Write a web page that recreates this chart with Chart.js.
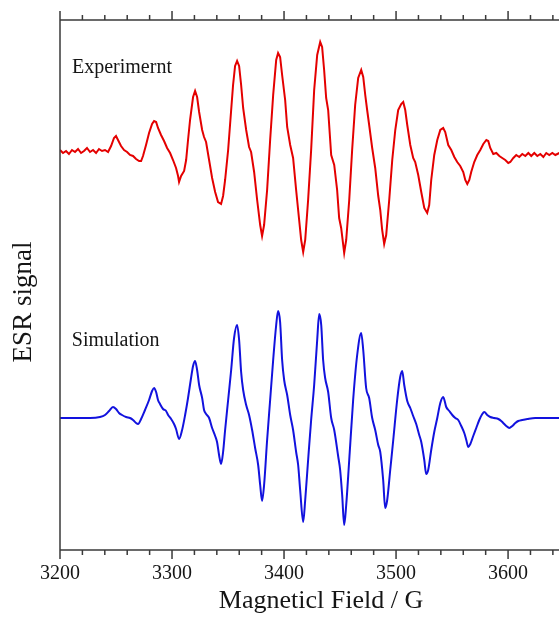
<!DOCTYPE html>
<html><head><meta charset="utf-8">
<script src="https://cdn.jsdelivr.net/npm/chart.js@4.4.1/dist/chart.umd.min.js"></script>
<style>html,body{margin:0;padding:0;overflow:hidden;background:#fff;width:559px;height:617px}</style>
</head><body>
<canvas id="c" width="582" height="617" style="display:block;width:582px;height:617px"></canvas>
<script>
// ---- data (magnetic field in G, signal in arbitrary units) ----
const xTickLabels = [3200, 3300, 3400, 3500, 3600];
const xMin = 3200, xMax = 3666;

const expField = [3200.0,3202.7,3205.4,3208.0,3210.7,3213.4,3216.1,3218.8,3221.4,3224.1,3226.8,3229.5,3232.2,3234.8,3237.5,3240.2,3242.9,3245.6,3248.2,3250.0,3251.8,3254.5,3257.2,3259.9,3262.5,3265.2,3267.9,3270.6,3272.4,3274.1,3276.8,3279.5,3282.2,3284.0,3285.8,3287.5,3290.2,3292.9,3295.6,3298.3,3300.9,3303.6,3305.4,3306.3,3308.1,3310.8,3312.6,3314.3,3316.1,3318.8,3320.6,3322.4,3324.2,3326.9,3328.6,3330.4,3333.1,3335.8,3338.5,3341.1,3343.8,3345.6,3347.4,3350.1,3352.8,3354.5,3356.3,3358.1,3359.9,3361.7,3363.5,3366.2,3368.8,3370.6,3373.3,3376.0,3378.7,3380.4,3382.2,3384.9,3387.6,3390.3,3393.0,3394.7,3396.5,3398.3,3401.0,3402.8,3405.5,3408.1,3410.8,3413.5,3415.3,3417.1,3418.9,3421.5,3424.2,3426.9,3429.6,3432.3,3434.0,3435.8,3437.6,3439.4,3442.1,3444.8,3447.4,3449.2,3451.0,3453.7,3455.5,3458.2,3460.8,3463.5,3466.2,3468.9,3470.7,3472.5,3474.2,3476.0,3478.7,3481.4,3484.1,3485.9,3487.6,3489.4,3491.2,3493.9,3496.6,3499.3,3501.9,3504.6,3506.4,3508.2,3510.0,3512.7,3515.3,3517.1,3519.8,3522.5,3525.2,3527.8,3529.6,3531.4,3534.1,3536.8,3539.5,3542.1,3543.9,3546.6,3549.3,3552.0,3554.6,3557.3,3560.0,3561.8,3563.6,3565.4,3567.1,3569.8,3572.5,3575.2,3577.9,3580.6,3582.3,3584.1,3586.8,3589.5,3592.2,3594.8,3597.5,3600.2,3602.0,3604.7,3607.3,3610.0,3612.7,3615.4,3618.1,3620.7,3623.4,3626.1,3628.8,3631.5,3634.1,3636.8,3639.5,3642.2,3645.8];
const expSignal = [2,-1,1,-2,2,0,3,-1,1,4,0,2,-1,3,1,2,0,6,14,16,12,6,2,0,-3,-4,-7,-9,-9,-4,7,19,28,31,30,24,17,11,4,-1,-8,-16,-24,-30,-24,-19,-8,12,32,55,61,55,40,22,15,10,-8,-26,-40,-50,-52,-44,-28,2,42,67,86,91,86,67,44,22,5,0,-20,-48,-73,-84,-73,-38,12,57,92,99,95,77,52,25,7,-6,-38,-68,-88,-100,-88,-48,2,62,97,110,105,82,54,42,-3,-13,-38,-66,-76,-101,-88,-48,2,47,74,82,75,57,42,27,4,-16,-44,-58,-78,-92,-83,-48,-8,22,42,48,50,42,27,7,-6,-10,-23,-40,-56,-61,-53,-28,-3,12,22,24,20,7,2,-5,-10,-14,-20,-28,-32,-28,-20,-10,-3,2,8,12,11,4,-2,-1,-4,-6,-8,-11,-10,-6,-3,-5,-2,-4,-1,-4,-1,-4,-2,-5,-1,-3,-1,-3,-1];

const simField = [3200.0,3226.8,3235.7,3240.2,3243.8,3247.3,3250.0,3252.7,3255.4,3259.0,3262.5,3265.2,3267.9,3269.7,3272.4,3275.9,3279.5,3282.2,3284.0,3285.8,3287.5,3289.3,3292.0,3294.7,3296.5,3299.2,3301.8,3303.6,3306.3,3309.0,3311.7,3314.3,3317.0,3318.8,3320.6,3322.4,3324.2,3326.9,3328.6,3330.4,3333.1,3335.8,3338.5,3340.2,3342.0,3343.8,3345.6,3347.4,3350.1,3352.8,3355.4,3358.1,3359.9,3361.7,3363.5,3366.2,3368.8,3371.5,3374.2,3376.9,3378.7,3380.4,3382.2,3384.9,3387.6,3390.3,3393.0,3394.7,3396.5,3398.3,3400.1,3402.8,3405.5,3408.1,3410.8,3412.6,3414.4,3417.1,3418.9,3421.5,3424.2,3426.9,3429.6,3431.4,3433.2,3434.9,3436.7,3439.4,3442.1,3444.8,3448.3,3450.1,3451.9,3453.7,3455.5,3458.2,3461.7,3465.3,3468.9,3470.7,3473.3,3476.0,3478.7,3481.4,3484.1,3485.9,3488.5,3490.3,3492.1,3494.8,3497.5,3501.0,3503.7,3505.5,3507.3,3510.0,3512.7,3515.3,3518.0,3520.7,3522.5,3525.2,3526.9,3528.7,3531.4,3534.1,3536.8,3539.5,3542.1,3544.8,3547.5,3550.2,3552.9,3555.5,3558.2,3560.9,3562.7,3564.5,3566.3,3568.9,3571.6,3574.3,3577.0,3578.8,3581.4,3584.1,3587.7,3591.3,3593.9,3595.7,3598.4,3601.1,3603.8,3606.5,3609.1,3612.7,3617.2,3624.3,3645.8,3666.0];
const simSignal = [0,0,1,3,7,11,9,5,3,1,0,-2,-5,-6,-1,8,18,27,30,26,18,14,9,7,3,-1,-6,-11,-21,-12,3,20,40,52,57,48,33,20,8,4,0,-10,-18,-24,-37,-46,-34,-12,18,48,80,93,78,46,28,13,3,-12,-30,-47,-67,-83,-67,-22,18,58,93,107,96,58,38,23,3,-12,-34,-47,-72,-104,-82,-42,-2,33,78,104,93,58,40,26,0,-12,-38,-52,-77,-107,-87,-42,18,63,85,68,30,20,0,-12,-27,-34,-62,-90,-82,-52,-22,18,41,47,33,17,10,2,-6,-17,-24,-42,-56,-52,-32,-14,0,15,21,11,7,3,0,-2,-8,-15,-22,-29,-26,-18,-10,-2,4,6,3,1,0,-1,-3,-5,-8,-10,-8,-5,-3,-2,-1,0,0,0];

// vertical offsets of the stacked spectra (same arbitrary units)
const expOffset = 0;
const simOffset = -266;
const yMin = -398, yMax = 132;

const expLabel = 'Experimernt', simLabel = 'Simulation';
const xTitle = 'Magneticl Field / G', yTitle = 'ESR signal';

// ---- build ----
const serif = "'Liberation Serif', 'Times New Roman', serif";
const ink = '#151515';
const axisColor = '#3a3a3a';

const expPts = expField.map((f, i) => ({x: f, y: expSignal[i] + expOffset}));
const simPts = simField.map((f, i) => ({x: f, y: simSignal[i] + simOffset}));

const framePlugin = {
  id: 'frame',
  afterDraw(chart) {
    const {ctx, chartArea: a, scales: {x, y}} = chart;
    ctx.save();
    ctx.strokeStyle = axisColor;
    ctx.lineWidth = 1.5;
    ctx.beginPath();
    ctx.moveTo(a.left, a.top); ctx.lineTo(a.right, a.top);
    ctx.moveTo(a.left, a.bottom); ctx.lineTo(a.right, a.bottom);
    ctx.moveTo(a.left, a.top - 0.75); ctx.lineTo(a.left, a.bottom + 0.75);
    for (let v = xMin; v <= xMax; v += 20) {
      const px = x.getPixelForValue(v);
      const len = (v % 100 === 0) ? 9 : 5;
      ctx.moveTo(px, a.bottom); ctx.lineTo(px, a.bottom + len);
      ctx.moveTo(px, a.top); ctx.lineTo(px, a.top - len);
    }
    ctx.stroke();
    ctx.fillStyle = ink;
    ctx.font = "20px " + serif;
    ctx.textAlign = 'left';
    ctx.textBaseline = 'alphabetic';
    ctx.fillText(expLabel, x.getPixelForValue(3210.7), y.getPixelForValue(79));
    ctx.fillText(simLabel, x.getPixelForValue(3210.5), y.getPixelForValue(-194));
    ctx.font = "27px " + serif;
    ctx.translate(31, 302);
    ctx.rotate(-Math.PI / 2);
    ctx.textAlign = 'center';
    ctx.fillText(yTitle, 0, 0);
    ctx.restore();
  }
};

new Chart(document.getElementById('c'), {
  type: 'line',
  data: {
    datasets: [
      {label: expLabel, data: expPts, borderColor: 'rgb(228,0,0)', borderWidth: 2, pointRadius: 0, tension: 0, fill: false},
      {label: simLabel, data: simPts, borderColor: 'rgb(18,18,222)', borderWidth: 2, pointRadius: 0, cubicInterpolationMode: 'monotone', fill: false}
    ]
  },
  options: {
    responsive: false,
    animation: false,
    devicePixelRatio: 1,
    layout: {padding: {top: 20, left: 0, right: 0, bottom: 0}},
    plugins: {legend: {display: false}, tooltip: {enabled: false}},
    scales: {
      x: {
        type: 'linear', min: xMin, max: xMax,
        grid: {display: false, drawTicks: false},
        border: {display: false},
        ticks: {
          stepSize: 100, padding: 12, maxRotation: 0, autoSkip: false,
          color: ink, font: {family: serif, size: 20},
          callback: v => xTickLabels.includes(v) ? String(v) : ''
        },
        title: {display: true, text: xTitle, color: ink, font: {family: serif, size: 26}, padding: 0},
        afterFit: s => { s.height = 67; s.paddingRight = 0; s.paddingLeft = 0; }
      },
      y: {
        type: 'linear', min: yMin, max: yMax,
        grid: {display: false, drawTicks: false},
        border: {display: false},
        ticks: {display: false},
        afterFit: s => { s.width = 60; s.paddingTop = 0; s.paddingBottom = 0; }
      }
    }
  },
  plugins: [framePlugin]
});
</script>
</body></html>
